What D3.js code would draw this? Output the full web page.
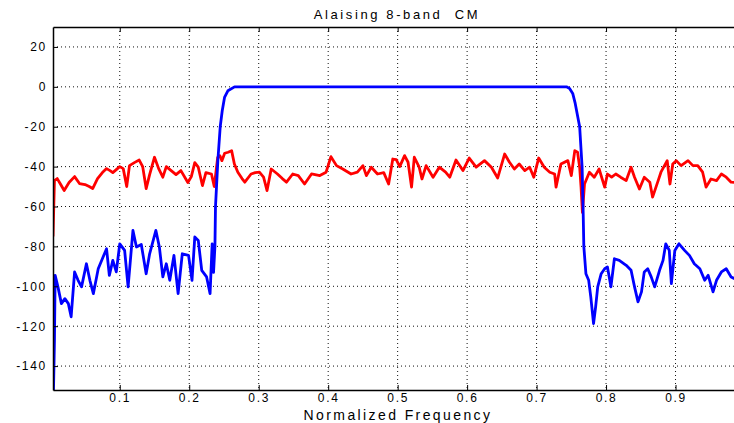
<!DOCTYPE html>
<html lang="en">
<head>
<meta charset="utf-8">
<title>Alaising 8-band CM</title>
<script src="https://d3js.org/d3.v7.min.js"></script>
<style>
  html, body { margin: 0; padding: 0; background: #fff; }
  svg text { font-family: "Liberation Sans", Arial, sans-serif; fill: #000; }
</style>
</head>
<body>
<script>
// axis ticks
var xTicks = [0.1, 0.2, 0.3, 0.4, 0.5, 0.6, 0.7, 0.8, 0.9];
var yTicks = [20, 0, -20, -40, -60, -80, -100, -120, -140];

// red curve (aliasing)
var redF = [0.0039, 0.006, 0.010, 0.015, 0.020, 0.027, 0.035, 0.042, 0.050, 0.056,
  0.061, 0.068, 0.075, 0.081, 0.086, 0.090, 0.095, 0.100, 0.105, 0.110,
  0.114, 0.121, 0.128, 0.133, 0.138, 0.143, 0.150, 0.156, 0.162, 0.167,
  0.174, 0.181, 0.188, 0.198, 0.203, 0.208, 0.213, 0.219, 0.224, 0.232,
  0.236, 0.241, 0.244, 0.247, 0.251, 0.256, 0.261, 0.265, 0.270, 0.276,
  0.280, 0.289, 0.295, 0.301, 0.307, 0.312, 0.318, 0.327, 0.334, 0.340,
  0.349, 0.357, 0.366, 0.376, 0.388, 0.397, 0.404, 0.412, 0.421, 0.433,
  0.442, 0.450, 0.455, 0.462, 0.471, 0.480, 0.487, 0.493, 0.498, 0.503,
  0.510, 0.515, 0.520, 0.524, 0.531, 0.535, 0.541, 0.551, 0.560, 0.569,
  0.575, 0.584, 0.594, 0.603, 0.613, 0.625, 0.635, 0.644, 0.654, 0.661,
  0.668, 0.675, 0.683, 0.690, 0.696, 0.703, 0.711, 0.719, 0.726, 0.728,
  0.735, 0.745, 0.750, 0.755, 0.759, 0.762, 0.764, 0.766, 0.769, 0.776,
  0.783, 0.790, 0.798, 0.802, 0.808, 0.814, 0.821, 0.829, 0.836, 0.841,
  0.848, 0.855, 0.863, 0.867, 0.875, 0.879, 0.888, 0.892, 0.896, 0.901,
  0.908, 0.918, 0.925, 0.932, 0.939, 0.944, 0.951, 0.959, 0.966, 0.973,
  0.980, 0.990, 1.000];
var redDb = [-75, -47, -46, -49, -52, -48, -45, -48.5, -49, -50,
  -51, -46, -43, -41, -42, -43, -41.5, -40, -41, -50,
  -39.5, -38, -36.7, -40, -51, -44, -35.3, -41, -45.3, -40,
  -42, -44, -42, -48, -45, -38, -40.3, -49.5, -43, -43.7,
  -50, -35.3, -34.5, -37, -33.3, -32.8, -32, -38.7, -42.8, -46,
  -47.8, -43.7, -43, -42.8, -45.3, -52, -41.2, -43.7, -46, -47.8,
  -43.7, -44.5, -48.7, -43.7, -44.5, -42.8, -35, -39.5, -41.2, -43.7,
  -42.8, -39.5, -44.5, -40.3, -43.7, -43, -48.7, -36.2, -36.5, -40,
  -34.5, -37.8, -50.3, -35.3, -40.3, -46.2, -39.5, -45.3, -40.3, -42.8,
  -45.3, -36.7, -42, -35.7, -40.3, -37, -40.3, -45.7, -33.7, -37.8,
  -41.2, -38.7, -42, -40.3, -45.3, -35.7, -40.3, -42.8, -43.7, -50.3,
  -38.7, -37, -44.5, -32, -32.8, -40.3, -50.3, -63, -48.7, -42.8,
  -45.3, -41.2, -50.3, -43.7, -45.3, -43.7, -45.3, -47, -40.3, -45.3,
  -51.2, -45.3, -47.8, -55.3, -47, -42.8, -37, -48.7, -38.7, -37,
  -39.5, -37, -39.5, -39.5, -42.8, -50.3, -46.2, -47, -43.7, -45.3,
  -47.8, -48, -47];

// blue curve (filter response)
var blueF = [0.0039, 0.006, 0.007, 0.011, 0.016, 0.021, 0.026, 0.030, 0.035, 0.040,
  0.045, 0.052, 0.057, 0.062, 0.069, 0.076, 0.081, 0.085, 0.090, 0.095,
  0.100, 0.107, 0.112, 0.119, 0.124, 0.131, 0.138, 0.143, 0.152, 0.157,
  0.162, 0.167, 0.172, 0.178, 0.184, 0.190, 0.199, 0.204, 0.208, 0.213,
  0.218, 0.225, 0.230, 0.233, 0.235, 0.237, 0.2378, 0.2412, 0.2446, 0.2475,
  0.2508, 0.2556, 0.2652, 0.743, 0.7475, 0.752, 0.7556, 0.762, 0.7655, 0.767,
  0.768, 0.771, 0.775, 0.778, 0.782, 0.785, 0.788, 0.793, 0.798, 0.802,
  0.807, 0.812, 0.819, 0.829, 0.836, 0.841, 0.846, 0.851, 0.855, 0.860,
  0.865, 0.870, 0.877, 0.882, 0.886, 0.891, 0.894, 0.899, 0.905, 0.913,
  0.920, 0.927, 0.935, 0.942, 0.947, 0.954, 0.959, 0.966, 0.973, 0.980,
  0.990, 1.000];
var blueDb = [-165, -127, -94.5, -100.3, -108.7, -106.2, -108.7, -115.3, -92.8, -97,
  -100.3, -88.7, -97, -103.7, -91.2, -85.3, -81.2, -94.5, -87, -92.8,
  -78.7, -82, -100.3, -72, -80.3, -79, -93.7, -83.7, -72, -80.3,
  -95.3, -88.7, -97, -84.5, -103.7, -83.7, -84.5, -97, -75.3, -77,
  -92, -95.3, -103.7, -78.7, -93, -80, -60, -37, -20, -12,
  -5.3, -2, 0, 0, -0.8, -3.3, -8.3, -20, -40, -62,
  -80, -93.7, -97, -105.3, -118.7, -110.3, -100.3, -93.7, -91.2, -90.3,
  -100.3, -86.2, -87, -89.5, -92, -100.3, -107.8, -102.8, -92.8, -91.2,
  -95.3, -100.3, -92, -87, -78.7, -82, -98.7, -82, -78.7, -82,
  -84.5, -88.7, -91.2, -97, -94.5, -102.8, -97, -92.8, -91.2, -95.3,
  -97, -96];

var w = 734;
var h = 423;
var plotLeft = 53, plotTop = 27, plotRight = 745, plotBottom = 390;

var svg = d3.select("body")
            .append("svg")
            .attr("width", w)
            .attr("height", h);

var xscale = d3.scaleLinear()
               .domain([0.0039, 1])
               .range([plotLeft, plotRight]);

var yscale = d3.scaleLinear()
               .domain([-152, 30])
               .range([plotBottom, plotTop]);

svg.append("clipPath")
   .attr("id", "plotclip")
   .append("rect")
   .attr("x", plotLeft)
   .attr("y", plotTop)
   .attr("width", plotRight - plotLeft)
   .attr("height", plotBottom - plotTop);

// dotted grid
svg.append("g")
   .selectAll("line")
   .data(xTicks)
   .enter()
   .append("line")
   .attr("x1", function(d) { return xscale(d); })
   .attr("x2", function(d) { return xscale(d); })
   .attr("y1", plotTop)
   .attr("y2", plotBottom)
   .attr("stroke", "#111")
   .attr("stroke-width", 1)
   .attr("stroke-dasharray", "1,3");

svg.append("g")
   .selectAll("line")
   .data(yTicks)
   .enter()
   .append("line")
   .attr("x1", plotLeft)
   .attr("x2", plotRight)
   .attr("y1", function(d) { return yscale(d); })
   .attr("y2", function(d) { return yscale(d); })
   .attr("stroke", "#111")
   .attr("stroke-width", 1)
   .attr("stroke-dasharray", "1,3");

// curves
var line = d3.line()
             .x(function(d) { return xscale(d[0]); })
             .y(function(d) { return yscale(d[1]); });

var redData = redF.map(function(f, i) { return [f, redDb[i]]; });
var blueData = blueF.map(function(f, i) { return [f, blueDb[i]]; });

var plot = svg.append("g").attr("clip-path", "url(#plotclip)");

plot.append("path")
    .datum(redData)
    .attr("d", line)
    .attr("fill", "none")
    .attr("stroke", "#ff0000")
    .attr("stroke-width", 2.8)
    .attr("stroke-linejoin", "round");

plot.append("path")
    .datum(blueData)
    .attr("d", line)
    .attr("fill", "none")
    .attr("stroke", "#0000ff")
    .attr("stroke-width", 2.8)
    .attr("stroke-linejoin", "round");

// axes with inward ticks
var fmt = function(d) { return String(d); };

var xAxis = svg.append("g")
   .attr("transform", "translate(0," + plotBottom + ")")
   .call(d3.axisBottom(xscale).tickValues(xTicks).tickFormat(fmt)
          .tickSizeInner(-5).tickSizeOuter(0).tickPadding(3));

var xTop = svg.append("g")
   .attr("transform", "translate(0," + plotTop + ")")
   .call(d3.axisTop(xscale).tickValues(xTicks).tickFormat("")
          .tickSizeInner(-5).tickSizeOuter(0));

var yAxis = svg.append("g")
   .attr("transform", "translate(" + plotLeft + ",0)")
   .call(d3.axisLeft(yscale).tickValues(yTicks).tickFormat(fmt)
          .tickSizeInner(-5).tickSizeOuter(0).tickPadding(6));

[xAxis, xTop, yAxis].forEach(function(g) {
  g.select(".domain").attr("stroke", "#000").attr("stroke-width", 1.5);
  g.selectAll(".tick line").attr("stroke", "#000");
  g.selectAll(".tick text")
   .attr("font-family", "Liberation Sans, Arial, sans-serif")
   .attr("font-size", "12px")
   .attr("letter-spacing", "1.7px")
   .attr("fill", "#000");
});

// title and x label
svg.append("text")
   .text("Alaising 8-band  CM")
   .attr("x", 397)
   .attr("y", 19)
   .attr("text-anchor", "middle")
   .attr("font-size", "13px")
   .attr("letter-spacing", "2.6px")
   .style("white-space", "pre");

svg.append("text")
   .text("Normalized Frequency")
   .attr("x", 398)
   .attr("y", 420)
   .attr("text-anchor", "middle")
   .attr("font-size", "14px")
   .attr("letter-spacing", "2.4px");
</script>
</body>
</html>
